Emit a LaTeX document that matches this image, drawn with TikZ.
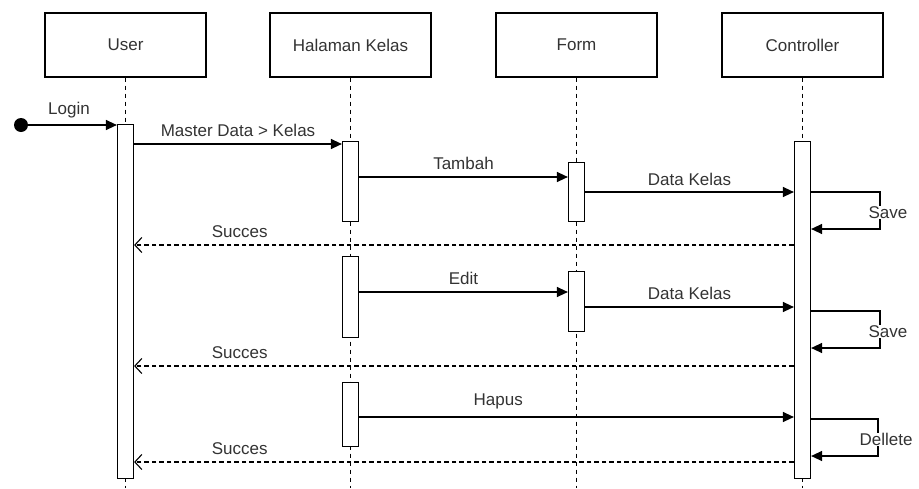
\documentclass[tikz,border=0pt]{standalone}
\usepackage{fontspec}
\setmainfont{Liberation Sans}
\usetikzlibrary{arrows.meta,positioning}
\definecolor{txtgray}{HTML}{333333}

\tikzset{
  head/.style={draw, line width=1.2pt, minimum width=161pt, minimum height=64pt,
    font=\fontsize{17}{20}\selectfont, text=txtgray},
  act/.style={draw, fill=white, line width=1.2pt, minimum width=16pt, inner sep=0pt},
  life/.style={line width=1.1pt, dash pattern=on 4.5pt off 3.5pt},
  msg/.style={line width=1.3pt, -{Triangle[length=11pt,width=10pt]}},
  ret/.style={line width=1.1pt, dash pattern=on 4.5pt off 3pt,
    -{Straight Barb[length=7pt,width=15pt,line width=1.1pt]}},
  self/.style={line width=1.3pt, -{Triangle[length=11pt,width=10pt]}},
  lbl/.style={font=\fontsize{17}{20}\selectfont, text=txtgray, inner sep=1pt},
  sbl/.style={lbl, fill=white, inner sep=0.5pt, xshift=8pt},
}

\begin{document}
\begin{tikzpicture}[x=1pt,y=-1pt]
	\useasboundingbox (0,0) rectangle (919,488);

	% lifeline heads
	\node[head] (user) at (125.5,45) {User};
	\node[head] (hal)  at (350.5,45) {Halaman Kelas};
	\node[head] (form) at (576.5,45) {Form};
	\node[head] (ctrl) at (802.5,45) {Controller};

	% lifelines
	\coordinate (userEnd) at (125.5,488);
	\coordinate (halEnd)  at (350.5,488);
	\coordinate (formEnd) at (576.5,488);
	\coordinate (ctrlEnd) at (802.5,488);
	\draw[life] (user.south) -- (userEnd);
	\draw[life] (hal.south)  -- (halEnd);
	\draw[life] (form.south) -- (formEnd);
	\draw[life] (ctrl.south) -- (ctrlEnd);

	% activation bars
	\node[act, anchor=north, minimum height=354pt] (ua)  at (125.5,124) {};
	\node[act, anchor=north, minimum height=80pt]  (ha1) at (350.5,141) {};
	\node[act, anchor=north, minimum height=81pt]  (ha2) at (350.5,256) {};
	\node[act, anchor=north, minimum height=64pt]  (ha3) at (350.5,382) {};
	\node[act, anchor=north, minimum height=59pt]  (fa1) at (576.5,162) {};
	\node[act, anchor=north, minimum height=60pt]  (fa2) at (576.5,271) {};
	\node[act, anchor=north, minimum height=337pt] (ca)  at (802.5,141) {};

	% start
	\fill (21,125) circle (7pt) coordinate (start);
	\draw[msg] (start) -- (ua.west |- start) node[lbl, midway, above=5pt] {Login};

	% add
	\draw[msg] (ua.east |- 0,144) -- (ha1.west |- 0,144)
		node[lbl, midway, above=6pt] {Master Data > Kelas};
	\draw[msg] (ha1.east |- 0,177) -- (fa1.west |- 0,177)
		node[lbl, midway, above=6pt] {Tambah};
	\draw[msg] (fa1.east |- 0,192) -- (ca.west |- 0,192)
		node[lbl, midway, above=5pt] {Data Kelas};
	\draw[self] (ca.east |- 0,192) -- (880,192) -- (880,229)
		node[sbl, pos=0.55] {Save} -- (ca.east |- 0,229);
	\draw[ret] (ca.west |- 0,245) -- (ua.east |- 0,245)
		node[lbl, pos=0.84, above=6pt] {Succes};

	% edit
	\draw[msg] (ha2.east |- 0,292) -- (fa2.west |- 0,292)
		node[lbl, midway, above=6pt] {Edit};
	\draw[msg] (fa2.east |- 0,307) -- (ca.west |- 0,307)
		node[lbl, midway, above=6pt] {Data Kelas};
	\draw[self] (ca.east |- 0,311) -- (880,311) -- (880,348)
		node[sbl, pos=0.55] {Save} -- (ca.east |- 0,348);
	\draw[ret] (ca.west |- 0,366) -- (ua.east |- 0,366)
		node[lbl, pos=0.84, above=6pt] {Succes};

	% delete
	\draw[msg] (ha3.east |- 0,417) -- (ca.west |- 0,417)
		node[lbl, pos=0.32, above=6pt] {Hapus};
	\draw[self] (ca.east |- 0,419) -- (878,419) -- (878,456)
		node[sbl, pos=0.55] {Dellete} -- (ca.east |- 0,456);
	\draw[ret] (ca.west |- 0,462) -- (ua.east |- 0,462)
		node[lbl, pos=0.84, above=6pt] {Succes};
\end{tikzpicture}
\end{document}
